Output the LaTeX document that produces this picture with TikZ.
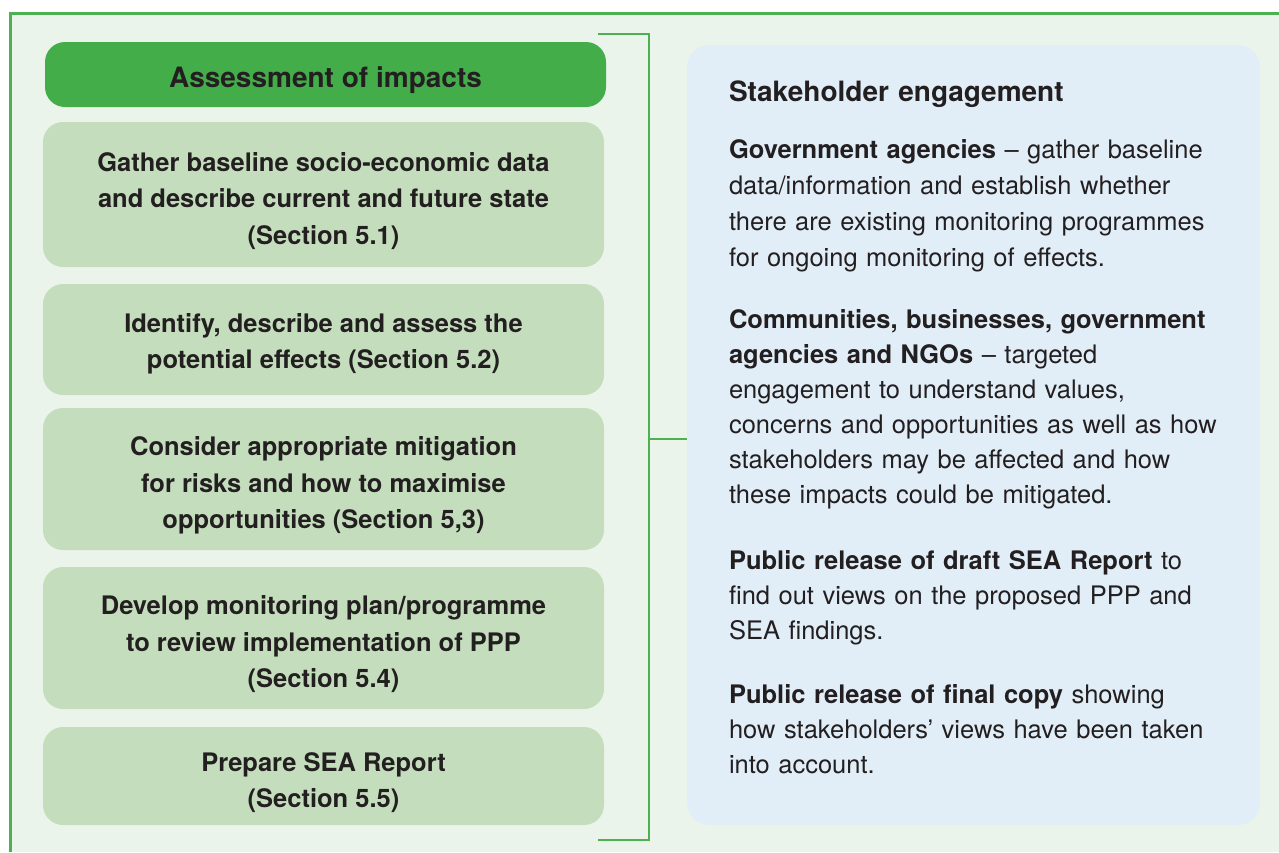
\documentclass[tikz,border=0pt]{standalone}
\usepackage{fontspec}
\setmainfont{TeX Gyre Heros}
\definecolor{bggreen}{HTML}{EBF4EA}
\definecolor{framegreen}{HTML}{4DB151}
\definecolor{headgreen}{HTML}{43AD4A}
\definecolor{boxgreen}{HTML}{C4DEBD}
\definecolor{panelblue}{HTML}{E1EEF8}
\definecolor{ink}{HTML}{231F20}
\newcommand{\firststrut}{\rule{0pt}{22pt}}
\newcommand{\boxstrut}{\rule{0pt}{32pt}}
\begin{document}
\begin{tikzpicture}[x=1pt,y=-1pt,
  stepbox/.style={rounded corners=20pt, fill=boxgreen, minimum width=561pt,
    inner sep=0pt, outer sep=0pt, align=center, text=ink,
    font=\bfseries\fontsize{25.5}{36.5}\selectfont},
  headbox/.style={stepbox, fill=headgreen, font=\bfseries\fontsize{28}{34}\selectfont},
  paratext/.style={anchor=north west, inner sep=0pt, outer sep=0pt, text width=540pt,
    align=left, text=ink, font=\fontsize{25.5}{35}\selectfont},
  titletext/.style={paratext, font=\bfseries\fontsize{28}{35}\selectfont},
  bracketline/.style={draw=framegreen, line width=2pt}]
\useasboundingbox (0,0) rectangle (1279,852);
\fill[bggreen] (10,13) rectangle (1279,852);
\draw[framegreen, line width=3pt] (10,852) -- (10,13) -- (1279,13);

% left column
\node[headbox, minimum height=65pt] (head) at (325.5,74.5) {\boxstrut Assessment of impacts};
\node[stepbox, minimum height=145pt] (s1) at (323.5,194.5)
  {\boxstrut Gather baseline socio-economic data\\and describe current and future state\\(Section 5.1)};
\node[stepbox, minimum height=111pt] (s2) at (323.5,339.5)
  {\rule{0pt}{28pt}Identify, describe and assess the\\potential effects (Section 5.2)};
\node[stepbox, minimum height=142pt] (s3) at (323.5,479)
  {\boxstrut Consider appropriate mitigation\\for risks and how to maximise\\opportunities (Section 5,3)};
\node[stepbox, minimum height=142pt] (s4) at (323.5,638)
  {\boxstrut Develop monitoring plan/programme\\to review implementation of PPP\\(Section 5.4)};
\node[stepbox, minimum height=98pt] (s5) at (323.5,776)
  {\boxstrut Prepare SEA Report\\(Section 5.5)};

% right panel
\node[rounded corners=22pt, fill=panelblue, minimum width=573pt, minimum height=780pt,
  inner sep=0pt, outer sep=0pt] (rp) at (973.5,435) {};
\node[titletext] (t0) at (729,79.5) {\firststrut Stakeholder engagement};
\node[paratext, font=\fontsize{25.5}{36}\selectfont] (t1) at (729,136) {\firststrut\textbf{Government agencies} – gather baseline\\
  data/information and establish whether\\there are existing monitoring programmes\\
  for ongoing monitoring of effects.};
\node[paratext] (t2) at (729,306.5) {\firststrut\textbf{Communities, businesses, government}\\
  \textbf{agencies and NGOs} – targeted\\engagement to understand values,\\
  concerns and opportunities as well as how\\stakeholders may be affected and how\\
  these impacts could be mitigated.};
\node[paratext] (t3) at (729,547.5) {\firststrut\textbf{Public release of draft SEA Report} to\\
  find out views on the proposed PPP and\\SEA findings.};
\node[paratext] (t4) at (729,681.5) {\firststrut\textbf{Public release of final copy} showing\\
  how stakeholders’ views have been taken\\into account.};

% bracket
\coordinate (bt) at (598,34);
\coordinate (btc) at (649,34);
\coordinate (bbc) at (649,840);
\coordinate (bb) at (598,840);
\coordinate (tk) at (649,439);
\draw[bracketline] (bt) -- (btc) -- (bbc) -- (bb);
\draw[bracketline] (tk) -- (tk -| rp.west);
\end{tikzpicture}
\end{document}
